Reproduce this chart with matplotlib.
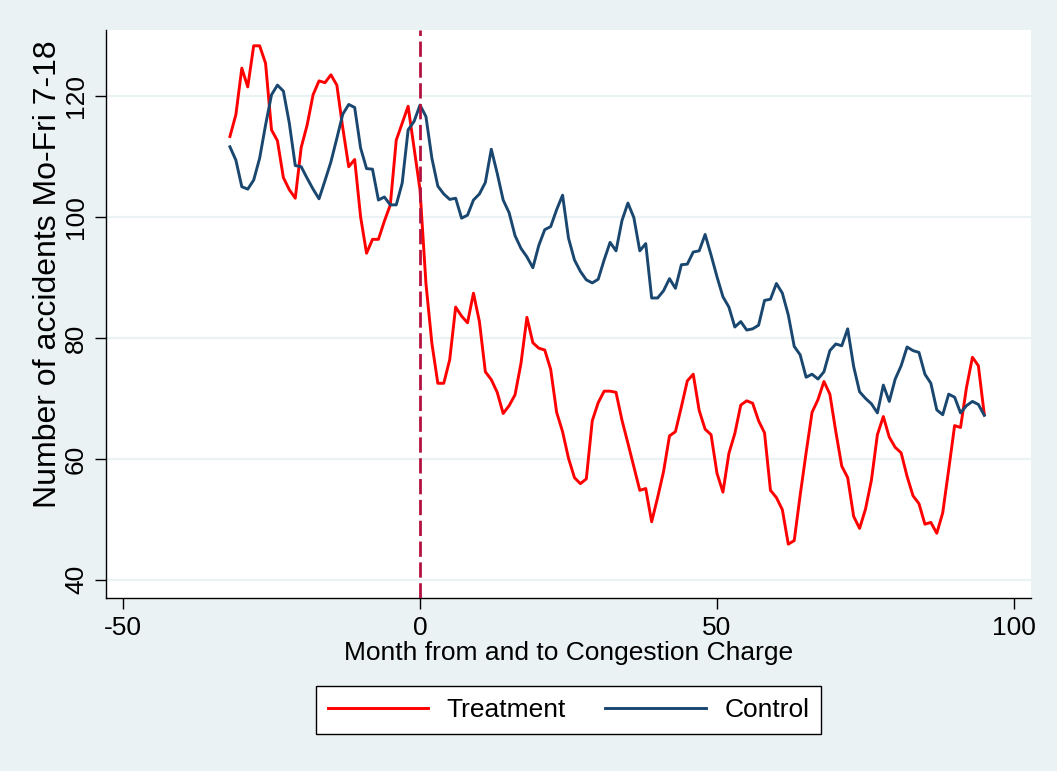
import matplotlib
matplotlib.use("Agg")
import matplotlib.pyplot as plt

# Monthly accident counts around the congestion charge introduction
months = list(range(-32, 96))

treatment = [
    113.3, 116.9, 124.6, 121.5, 128.3, 128.3, 125.4, 114.4, 112.6, 106.5,
    104.5, 103.1, 111.5, 115.2, 120.2, 122.5, 122.2, 123.5, 121.8, 114.7,
    108.3, 109.5, 100.0, 94.0, 96.3, 96.3, 99.3, 102.0, 112.7, 115.5,
    118.3, 111.4, 104.5, 89.0, 79.1, 72.5, 72.5, 76.4, 85.1, 83.6,
    82.5, 87.4, 82.7, 74.4, 73.1, 71.0, 67.5, 68.8, 70.6, 75.8,
    83.4, 79.2, 78.3, 78.0, 74.8, 67.7, 64.5, 60.1, 56.9, 55.9,
    56.7, 66.3, 69.3, 71.2, 71.2, 71.0, 66.4, 62.6, 58.7, 54.8,
    55.1, 49.6, 53.6, 57.9, 63.8, 64.5, 68.6, 72.9, 74.0, 68.0,
    64.9, 64.0, 57.6, 54.5, 60.9, 64.2, 68.9, 69.6, 69.2, 66.3,
    64.3, 54.8, 53.6, 51.6, 45.9, 46.5, 54.0, 61.0, 67.7, 69.8,
    72.8, 70.7, 64.5, 58.8, 56.9, 50.5, 48.5, 51.7, 56.5, 64.0,
    67.0, 63.6, 61.9, 61.0, 57.1, 53.9, 52.6, 49.2, 49.5, 47.7,
    51.1, 58.2, 65.5, 65.2, 71.8, 76.8, 75.4, 67.3,
]

control = [
    111.6, 109.4, 105.0, 104.6, 106.1, 109.7, 115.2, 120.2, 121.8, 120.8,
    115.5, 108.5, 108.3, 106.4, 104.6, 103.0, 106.0, 109.1, 113.0, 117.0,
    118.6, 118.1, 111.4, 108.0, 107.9, 102.8, 103.3, 102.0, 102.0, 105.6,
    114.4, 115.8, 118.5, 116.6, 109.7, 105.1, 103.8, 102.9, 103.1, 99.8,
    100.3, 102.8, 103.8, 105.7, 111.2, 107.2, 102.8, 100.7, 96.9, 94.8,
    93.4, 91.6, 95.3, 97.9, 98.4, 101.2, 103.6, 96.5, 92.9, 91.0,
    89.6, 89.1, 89.7, 92.9, 95.8, 94.4, 99.4, 102.3, 99.9, 94.4,
    95.6, 86.6, 86.6, 87.8, 89.8, 88.2, 92.1, 92.2, 94.2, 94.4,
    97.1, 93.7, 90.1, 86.8, 85.1, 81.8, 82.7, 81.3, 81.5, 82.1,
    86.2, 86.4, 89.0, 87.4, 83.8, 78.6, 77.2, 73.5, 74.0, 73.2,
    74.4, 77.9, 79.0, 78.7, 81.5, 75.3, 71.1, 70.0, 69.1, 67.6,
    72.2, 69.5, 73.2, 75.4, 78.5, 77.9, 77.6, 74.0, 72.5, 68.1,
    67.3, 70.7, 70.2, 67.6, 68.8, 69.5, 69.0, 67.2,
]

x_ticks = [-50, 0, 50, 100]
y_ticks = [40, 60, 80, 100, 120]

plt.rcParams["font.family"] = ["Liberation Sans", "DejaVu Sans"]
plt.rcParams["lines.scale_dashes"] = False
plt.rcParams["axes.unicode_minus"] = False

bg = "#EAF2F3"
fig = plt.figure(figsize=(10.57, 7.71), dpi=100, facecolor=bg)
ax = fig.add_axes([0.1003, 0.2244, 0.8751, 0.7366])
ax.set_facecolor("white")

# grid lines
for y in y_ticks:
    ax.axhline(y, color=bg, lw=1.6, zorder=0)

ax.plot(months, treatment, color="#FF0000", lw=2.1, label="Treatment", zorder=3)
ax.plot(months, control, color="#1A476F", lw=2.1, label="Control", zorder=3)
ax.axvline(0, color="#B4123E", lw=2.0, dashes=(11, 4), zorder=4)

ax.set_xlim(-52.86, 102.86)
ax.set_ylim(37.0, 130.9)
ax.set_xticks(x_ticks)
ax.set_yticks(y_ticks)
ax.set_yticklabels([str(v) for v in y_ticks], rotation=90, va="center")

for side in ["top", "right"]:
    ax.spines[side].set_visible(False)
for side in ["left", "bottom"]:
    ax.spines[side].set_linewidth(1.0)
ax.tick_params(axis="both", length=8, width=1.0, labelsize=19, pad=5)

ax.set_xlabel("Month from and to Congestion Charge", fontsize=19, labelpad=1)
ax.set_ylabel("Number of accidents Mo-Fri 7-18", fontsize=23)
ax.yaxis.set_label_coords(-0.046, 0.57)

leg = ax.legend(loc="center", bbox_to_anchor=(0.5, -0.197), ncol=2,
                fontsize=19, frameon=True, fancybox=False, framealpha=1,
                edgecolor="black", handlelength=3.8, handletextpad=0.7,
                columnspacing=1.5, borderpad=0.45)
leg.get_frame().set_linewidth(1.0)

fig.savefig("out.png", dpi=100, facecolor=bg)
